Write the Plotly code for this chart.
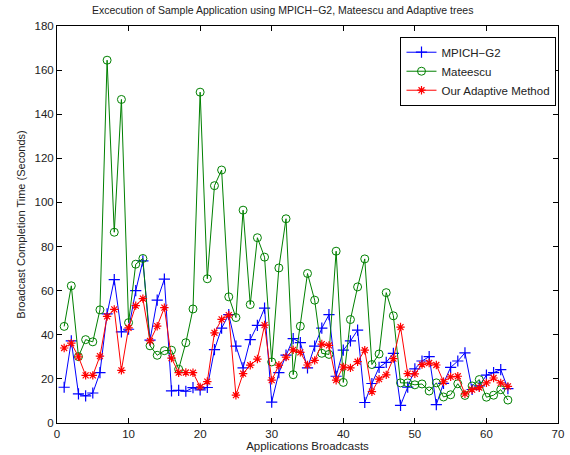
import plotly.graph_objects as go

x_vals = list(range(1, 64))

mpich_g2 = [16.2, 37.2, 13.2, 12.3, 13.6, 22.8, 49.5, 65.0, 41.3, 42.5,
            60.0, 73.5, 37.6, 55.7, 65.2, 14.6, 14.8, 14.4, 16.0, 15.0,
            16.1, 33.3, 43.0, 49.1, 34.9, 25.0, 37.8, 44.3, 52.1, 9.5,
            22.8, 30.8, 38.3, 36.4, 25.0, 34.9, 43.0, 49.1, 21.2, 33.0,
            37.2, 42.1, 9.3, 17.9, 25.2, 27.5, 31.6, 8.0, 16.3, 24.5,
            28.1, 30.1, 8.3, 18.0, 25.2, 28.1, 31.8, 15.2, 16.8, 21.7,
            22.8, 24.2, 15.6]

mateescu = [43.8, 62.2, 30.1, 37.8, 36.8, 51.3, 164.5, 86.5, 146.7, 45.5,
            72.0, 74.6, 35.0, 30.7, 32.8, 33.0, 24.4, 36.4, 51.7, 150.0,
            65.4, 107.6, 114.7, 57.2, 47.8, 96.5, 53.7, 84.0, 75.2, 27.7,
            70.3, 92.6, 21.9, 43.9, 67.8, 55.7, 31.6, 31.1, 77.9, 18.4,
            46.9, 61.7, 74.4, 26.5, 31.3, 59.1, 48.6, 18.2, 18.2, 17.3,
            17.7, 14.5, 18.2, 11.8, 12.8, 17.8, 12.5, 16.8, 19.7, 11.7,
            12.6, 15.1, 10.4]

adaptive = [34.0, 36.2, 30.0, 21.6, 21.6, 30.3, 48.3, 51.5, 23.9, 43.1,
            53.2, 56.4, 37.2, 43.9, 52.3, 29.4, 22.8, 22.9, 22.8, 16.4,
            18.8, 40.9, 47.0, 48.9, 12.6, 22.4, 26.2, 29.0, 44.4, 19.4,
            26.2, 29.9, 33.2, 32.0, 26.3, 28.4, 35.8, 35.2, 19.4, 25.4,
            25.0, 27.8, 33.0, 14.2, 19.9, 21.8, 29.2, 43.5, 22.4, 22.3,
            26.5, 27.2, 26.3, 18.7, 20.9, 21.2, 13.2, 15.1, 16.0, 18.2,
            20.4, 18.2, 16.6]

x_ticks = list(range(0, 71, 10))
y_ticks = list(range(0, 181, 20))

font_family = "Liberation Sans, Arial, sans-serif"

fig = go.Figure()
fig.add_trace(go.Scatter(
    x=x_vals, y=mpich_g2, mode="lines+markers", name="MPICH\u2212G2",
    line=dict(color="rgb(0,0,255)", width=1),
    marker=dict(symbol="cross-thin-open", size=8,
                line=dict(color="rgb(0,0,255)", width=1.2))))
fig.add_trace(go.Scatter(
    x=x_vals, y=mateescu, mode="lines+markers", name="Mateescu",
    line=dict(color="rgb(0,128,0)", width=1),
    marker=dict(symbol="circle-open", size=8,
                line=dict(color="rgb(0,128,0)", width=1))))
fig.add_trace(go.Scatter(
    x=x_vals, y=adaptive, mode="lines+markers", name="Our Adaptive Method",
    line=dict(color="rgb(255,0,0)", width=1),
    marker=dict(symbol="asterisk-open", size=7,
                line=dict(color="rgb(255,0,0)", width=1.2))))

axis_common = dict(
    showline=True, linecolor="black", linewidth=1, mirror="allticks",
    ticks="inside", ticklen=5, tickcolor="black", showgrid=False,
    zeroline=False, automargin=False,
    tickfont=dict(family=font_family, size=11.5, color="#222"),
)

fig.update_layout(
    width=570, height=455,
    margin=dict(l=57, r=12, t=26, b=32, autoexpand=False),
    paper_bgcolor="white", plot_bgcolor="white",
    title=dict(text="Excecution of Sample Application using MPICH\u2212G2, Mateescu and Adaptive trees",
               x=0.496, xanchor="center", xref="container", y=0.978, yanchor="middle", yref="container",
               automargin=False,
               font=dict(family=font_family, size=10.5, color="#222")),
    xaxis=dict(range=[0, 70], tickvals=x_ticks,
               title=dict(text="Applications Broadcasts", standoff=2,
                          font=dict(family=font_family, size=11.5, color="#222")),
               **axis_common),
    yaxis=dict(range=[0, 180], tickvals=y_ticks,
               title=dict(text="Broadcast Completion Time (Seconds)", standoff=6,
                          font=dict(family=font_family, size=11, color="#222")),
               **axis_common),
    legend=dict(x=0.997, xanchor="right", y=0.973, yanchor="top",
                bgcolor="white", bordercolor="black", borderwidth=1,
                font=dict(family=font_family, size=11.5, color="#222"),
                tracegroupgap=0, itemwidth=30),
    showlegend=True,
)

fig.write_html("out.html",
               config={"displayModeBar": False},
               post_script="document.body.style.margin='0';document.body.style.padding='0';")
